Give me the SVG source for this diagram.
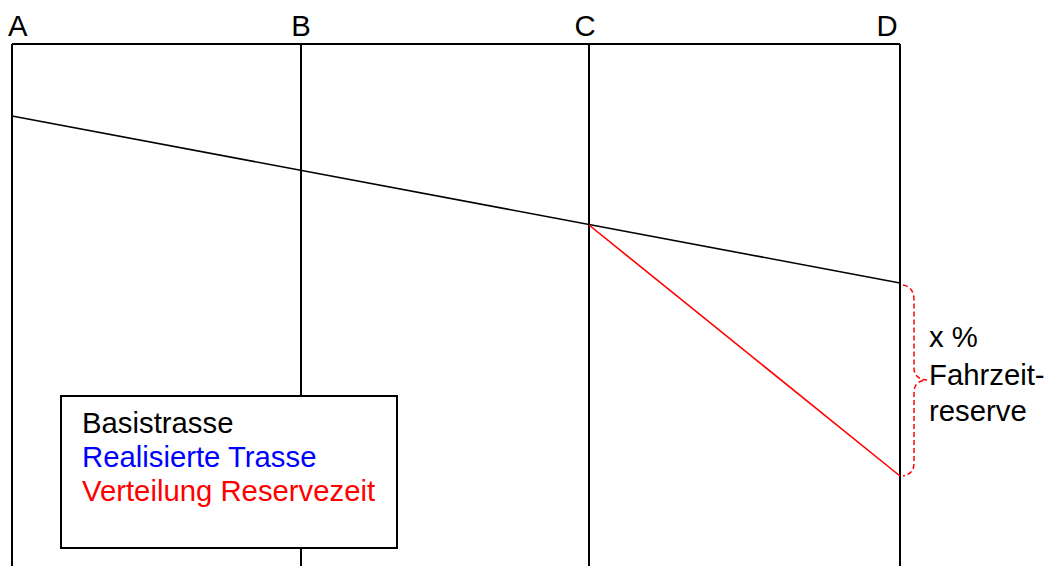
<svg xmlns="http://www.w3.org/2000/svg" width="1058" height="566" viewBox="0 0 1058 566">
<style>
text{font-family:"Liberation Sans",Arial,sans-serif;font-size:29.3px;fill:#000}
.frame{stroke:#000;stroke-width:2;fill:none}
.base{stroke:#000;stroke-width:1.6;fill:none}
.red{stroke:#f00;stroke-width:1.6;fill:none}
.brace{stroke:#f00;stroke-width:1.5;fill:none;stroke-dasharray:5 3}
</style>
<rect width="1058" height="566" fill="#fff"/>
<g id="frame">
<line class="frame" x1="12" y1="44" x2="900" y2="44"/>
<line class="frame" x1="12" y1="44" x2="12" y2="566"/>
<line class="frame" x1="301" y1="44" x2="301" y2="566"/>
<line class="frame" x1="589" y1="44" x2="589" y2="566"/>
<line class="frame" x1="900" y1="44" x2="900" y2="566"/>
</g>
<g id="labels">
<text x="8" y="36">A</text>
<text x="301" y="36" text-anchor="middle">B</text>
<text x="585" y="36" text-anchor="middle">C</text>
<text x="887" y="36" text-anchor="middle">D</text>
</g>
<g id="connectors">
<line class="base" x1="12" y1="116" x2="900" y2="283"/>
<line class="red" x1="589" y1="225" x2="900" y2="476"/>
<path class="brace" d="M903,285 Q914,287 914,300 L914,368 Q914,379 927,380 Q914,381 914,392 L914,463 Q914,474 903,476"/>
</g>
<g id="reserve">
<text x="929" y="347">x %</text>
<text x="929" y="385">Fahrzeit-</text>
<text x="929" y="421">reserve</text>
</g>
<g id="legend">
<rect x="61" y="396" width="336" height="152" fill="#fff" stroke="#000" stroke-width="2"/>
<text x="82" y="433">Basistrasse</text>
<text x="82" y="467" style="fill:#00f">Realisierte Trasse</text>
<text x="82" y="501" style="fill:#f00">Verteilung Reservezeit</text>
</g>
</svg>
